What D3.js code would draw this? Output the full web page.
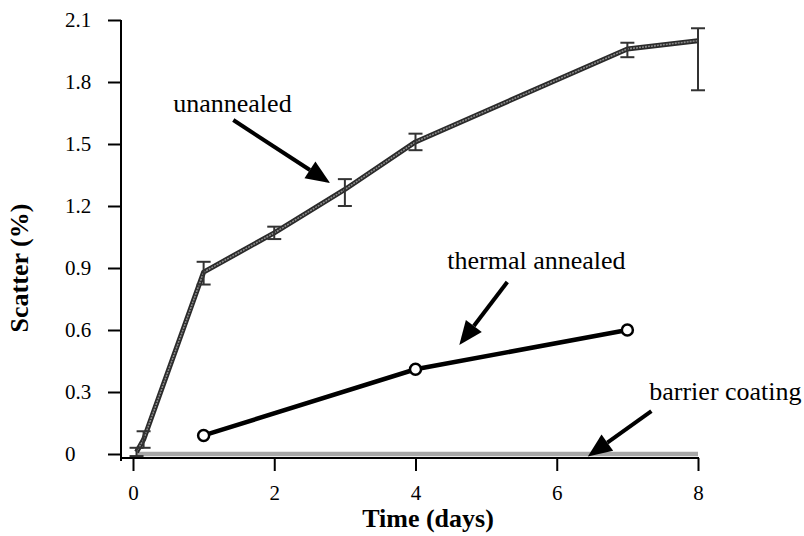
<!DOCTYPE html>
<html><head><meta charset="utf-8">
<script src="https://cdn.jsdelivr.net/npm/d3@7"></script>
<style>body{margin:0;background:#fff}svg{display:block}svg text{font-family:"Liberation Serif","Times New Roman",serif !important}</style>
</head><body>
<svg id="c" width="804" height="536"></svg>
<script>
// ---- data ----
const unannealedDays = [0.05, 0.15, 1, 2, 3, 4, 7, 8];
const unannealedVals = [0.01, 0.07, 0.88, 1.07, 1.28, 1.51, 1.96, 2.00];
const unannealedErrLo = [0.02, 0.04, 0.06, 0.03, 0.08, 0.04, 0.04, 0.24];
const unannealedErrHi = [0.02, 0.04, 0.05, 0.03, 0.05, 0.04, 0.03, 0.06];
const thermalDays = [1, 4, 7];
const thermalVals = [0.09, 0.41, 0.60];
const barrierDays = [0.05, 1, 2, 3, 4, 5, 6, 7, 8];
const barrierVals = [0, 0, 0, 0, 0, 0, 0, 0, 0];
const xTicks = [0, 2, 4, 6, 8];
const yTicks = [0, 0.3, 0.6, 0.9, 1.2, 1.5, 1.8, 2.1];
const annLabels = ["unannealed", "thermal annealed", "barrier coating"];
const annText = [[0.57, 1.654], [4.45, 0.895], [7.31, 0.261]];
const annFrom = [[1.42, 1.616], [5.30, 0.832], [7.34, 0.208]];
const annTo = [[2.79, 1.311], [4.62, 0.527], [6.44, -0.012]];

// ---- scales ----
const svg = d3.select("#c");
const x = d3.scaleLinear().domain([0, 8]).range([133, 698]);
const y = d3.scaleLinear().domain([0, 2.1]).range([454, 20]);
const SERIF = '"Liberation Serif","Times New Roman",serif';

// axes
const yAxisX = 121, xAxisY = 458;
svg.append("line").attr("x1", yAxisX).attr("x2", yAxisX).attr("y1", y(2.1)).attr("y2", 461)
  .attr("stroke", "#000").attr("stroke-width", 2);
svg.append("line").attr("x1", yAxisX).attr("x2", x(8) + 1).attr("y1", xAxisY).attr("y2", xAxisY)
  .attr("stroke", "#000").attr("stroke-width", 2);

const yAx = svg.append("g").attr("transform", `translate(${yAxisX},0)`)
  .call(d3.axisLeft(y).tickValues(yTicks).tickSize(13).tickFormat(d => d === 0 ? "0" : d3.format(".1f")(d)));
yAx.attr("font-family", null).attr("font-size", null);
yAx.select(".domain").remove();
yAx.selectAll(".tick line").attr("stroke", "#000").attr("stroke-width", 2);
yAx.selectAll(".tick text").attr("x", 65 - yAxisX).attr("text-anchor", "start")
  .style("font-size", "21px").style("font-family", SERIF).attr("fill", "#000");

const xAx = svg.append("g").attr("transform", `translate(0,${xAxisY})`)
  .call(d3.axisBottom(x).tickValues(xTicks).tickSize(13).tickFormat(d3.format("d")));
xAx.attr("font-family", null).attr("font-size", null);
xAx.select(".domain").remove();
xAx.selectAll(".tick line").attr("stroke", "#000").attr("stroke-width", 2);
xAx.selectAll(".tick text").attr("y", 27).style("font-size", "21px").style("font-family", SERIF).attr("fill", "#000");

svg.append("text").attr("x", 428).attr("y", 527).attr("text-anchor", "middle")
  .style("font-size", "26px").attr("font-weight", "bold").text("Time (days)");
svg.append("text").attr("transform", "translate(28,268) rotate(-90)").attr("text-anchor", "middle")
  .style("font-size", "26px").attr("font-weight", "bold").text("Scatter (%)");

// barrier coating
const line = d3.line().x(d => x(d[0])).y(d => y(d[1]));
svg.append("path").datum(barrierDays.map((d, i) => [d, barrierVals[i]])).attr("d", line)
  .attr("fill", "none").attr("stroke", "#a8a8a8").attr("stroke-width", 4.5);

// unannealed
const uData = unannealedDays.map((d, i) => [d, unannealedVals[i], unannealedErrLo[i], unannealedErrHi[i]]);
svg.append("path").datum(uData).attr("d", line).attr("fill", "none")
  .attr("stroke", "#2a2a2a").attr("stroke-width", 5).attr("stroke-linejoin", "round");
svg.append("path").datum(uData).attr("d", line).attr("fill", "none")
  .attr("stroke", "#8a8a8a").attr("stroke-width", 1.6).attr("stroke-dasharray", "2,1");
const eb = svg.append("g").attr("stroke", "#333").attr("stroke-width", 2);
uData.forEach(d => {
  const cx = x(d[0]), y1 = y(d[1] + d[3]), y2 = y(d[1] - d[2]);
  eb.append("line").attr("x1", cx).attr("x2", cx).attr("y1", y1).attr("y2", y2);
  eb.append("line").attr("x1", cx - 7).attr("x2", cx + 7).attr("y1", y1).attr("y2", y1);
  eb.append("line").attr("x1", cx - 7).attr("x2", cx + 7).attr("y1", y2).attr("y2", y2);
});

// thermal annealed
const tData = thermalDays.map((d, i) => [d, thermalVals[i]]);
svg.append("path").datum(tData).attr("d", line).attr("fill", "none")
  .attr("stroke", "#000").attr("stroke-width", 4.5);
svg.selectAll("circle.t").data(tData).join("circle").attr("class", "t")
  .attr("cx", d => x(d[0])).attr("cy", d => y(d[1])).attr("r", 5.5)
  .attr("fill", "#fff").attr("stroke", "#000").attr("stroke-width", 2.5);

// annotations
annLabels.forEach((t, i) => {
  svg.append("text").attr("x", x(annText[i][0])).attr("y", y(annText[i][1]))
    .style("font-size", "26px").attr("fill", "#000").text(t);
  const x1 = x(annFrom[i][0]), y1 = y(annFrom[i][1]), x2 = x(annTo[i][0]), y2 = y(annTo[i][1]);
  const ang = Math.atan2(y2 - y1, x2 - x1), L = 24, W = 10;
  const bx = x2 - L * Math.cos(ang), by = y2 - L * Math.sin(ang);
  svg.append("line").attr("x1", x1).attr("y1", y1).attr("x2", bx).attr("y2", by)
    .attr("stroke", "#000").attr("stroke-width", 4);
  const px = -Math.sin(ang) * W, py = Math.cos(ang) * W;
  svg.append("path").attr("d", `M${x2},${y2}L${bx + px},${by + py}L${bx - px},${by - py}Z`).attr("fill", "#000");
});
</script>
</body></html>
